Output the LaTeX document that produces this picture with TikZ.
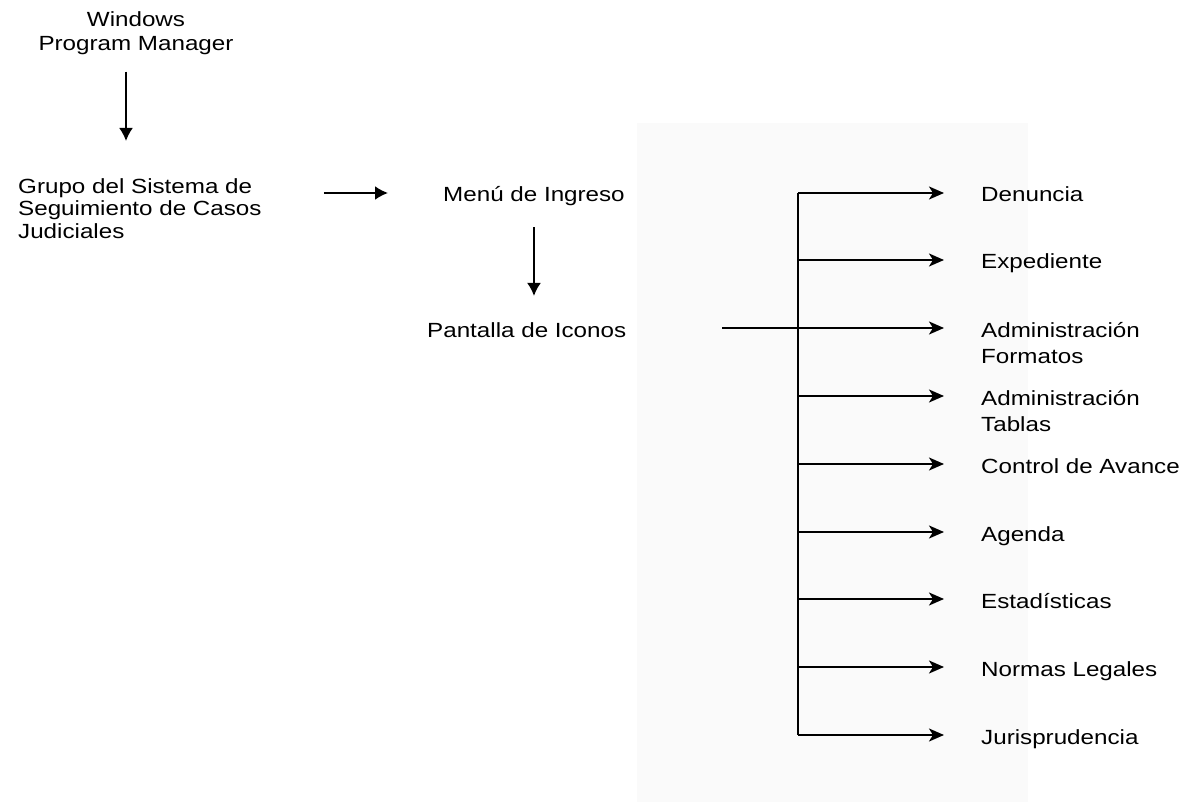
\documentclass[tikz,border=0pt]{standalone}
\usepackage{fontspec}
\setmainfont{Liberation Sans}[FakeStretch=1.18]
\usetikzlibrary{arrows.meta}
\definecolor{panelgray}{RGB}{250,250,250}
\tikzset{
  lbl/.style={inner sep=0pt, font=\fontsize{20.5}{26}\selectfont},
  lblm/.style={lbl, align=left},
  arr/.style={line width=1.9pt, -{Latex[length=13pt,width=14pt]}},
  br/.style={line width=1.9pt, -{Stealth[length=15pt,width=13pt,inset=4pt]}},
  trunk/.style={line width=1.9pt}
}
\begin{document}
\begin{tikzpicture}[x=1pt,y=-1pt]
\useasboundingbox (0,0) rectangle (1187,802);
\fill[panelgray] (637,123) rectangle (1028,802);

% left part
\node[lbl, font=\fontsize{20.5}{24}\selectfont, align=center, anchor=north] (win) at (136,11) {Windows\\Program Manager};
\node[lbl, font=\fontsize{20.5}{22.5}\selectfont, align=left, anchor=north west] (grp) at (18,178) {Grupo del Sistema de\\Seguimiento de Casos\\Judiciales};
\node[lbl, anchor=base west] (men) at (443,202) {Menú de Ingreso};
\node[lbl, anchor=base west] (pan) at (427,338) {Pantalla de Iconos};

% right labels
\node[lbl, anchor=base west] (l1) at (981,202) {Denuncia};
\node[lbl, anchor=base west] (l2) at (981,269) {Expediente};
\node[lblm, anchor=north west] (l3) at (981,322) {Administración\\Formatos};
\node[lblm, anchor=north west] (l4) at (981,390) {Administración\\Tablas};
\node[lbl, anchor=base west] (l5) at (981,473) {Control de Avance};
\node[lbl, anchor=base west] (l6) at (981,541) {Agenda};
\node[lbl, anchor=base west] (l7) at (981,608) {Estadísticas};
\node[lbl, anchor=base west] (l8) at (981,676) {Normas Legales};
\node[lbl, anchor=base west] (l9) at (981,744) {Jurisprudencia};

% coordinates
\coordinate (wx) at (126,0);
\coordinate (r1) at (0,193);
\coordinate (t1) at (798,193);
\coordinate (t2) at (798,260);
\coordinate (t3) at (798,328);
\coordinate (t4) at (798,396);
\coordinate (t5) at (798,464);
\coordinate (t6) at (798,532);
\coordinate (t7) at (798,599);
\coordinate (t8) at (798,667);
\coordinate (t9) at (798,735);
\coordinate (ps) at (722,328);

% left connectors
\draw[arr, shorten <=17pt, shorten >=37pt] (win.south -| wx) -- (grp.north -| wx);
\draw[arr, shorten <=62pt, shorten >=55pt] (grp.east |- r1) -- (men.west |- r1);
\draw[arr, shorten <=21pt, shorten >=27pt] (men.south) -- (pan.north -| men.south);

% trunk and branches
\draw[trunk] (t1) -- (t9);
\draw[br, shorten >=37pt] (t1) -- (t1 -| l1.west);
\draw[br, shorten >=37pt] (t2) -- (t2 -| l2.west);
\draw[br, shorten >=37pt] (ps) -- (t3 -| l3.west);
\draw[br, shorten >=37pt] (t4) -- (t4 -| l4.west);
\draw[br, shorten >=37pt] (t5) -- (t5 -| l5.west);
\draw[br, shorten >=37pt] (t6) -- (t6 -| l6.west);
\draw[br, shorten >=37pt] (t7) -- (t7 -| l7.west);
\draw[br, shorten >=37pt] (t8) -- (t8 -| l8.west);
\draw[br, shorten >=37pt] (t9) -- (t9 -| l9.west);
\end{tikzpicture}
\end{document}
